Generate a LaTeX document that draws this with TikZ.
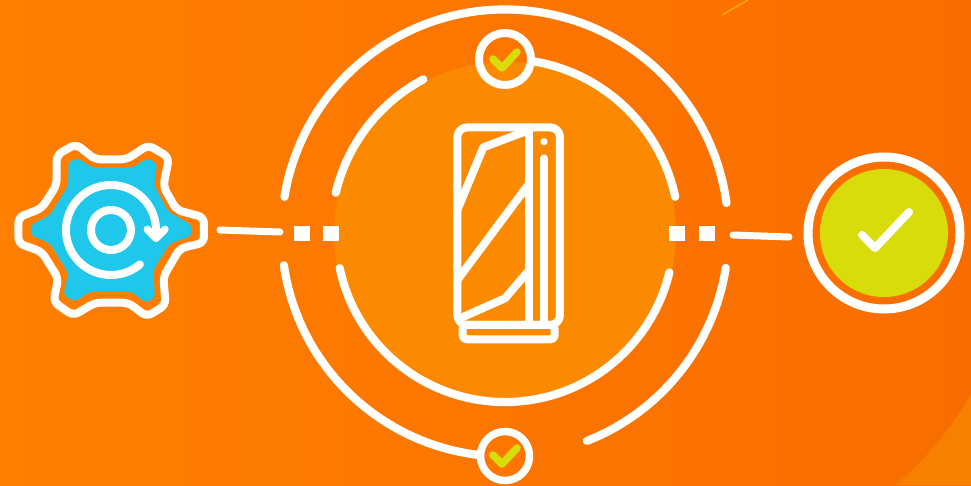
\documentclass[tikz,border=0pt]{standalone}
\definecolor{bgL}{HTML}{FF7F00}
\definecolor{bgM}{HTML}{FC7400}
\definecolor{bgR}{HTML}{F96D00}
\definecolor{disc}{HTML}{FB8A00}
\definecolor{corner}{HTML}{F88000}
\definecolor{lime}{HTML}{D7DC0A}
\definecolor{sky}{HTML}{1FC8EA}
\definecolor{spark}{HTML}{FFA800}
\tikzset{
  wl/.style={draw=white,line width=#1,line cap=round,line join=round},
  wl/.default=8.2pt,
  tick/.style={draw=lime,line width=7.5pt,line cap=round,line join=round},
  sq/.style={fill=white,draw=none}
}
\newcommand{\ringarc}[3]{\draw[wl] ({505+#1*cos(#2)},{233+#1*sin(#2)}) arc[start angle=#2,end angle=#3,radius=#1];}
\begin{document}
\begin{tikzpicture}[x=1pt,y=-1pt]
\useasboundingbox (0,0) rectangle (971,485);
\shade[left color=bgL,middle color=bgM,right color=bgR] (0,0) rectangle (971,485);
\fill[corner] (895,485) .. controls (925,460) and (950,430) .. (971,395) -- (971,485) -- cycle;
\draw[spark,line width=1.5pt] (722,15) -- (748,0);
% disc
\fill[disc] (505,233) circle[radius=171];
% rings
\ringarc{223.5}{189.3}{352.3}
\ringarc{223.5}{171.7}{96.4}
\ringarc{223.5}{68.5}{9}
\ringarc{174}{193.4}{242}
\ringarc{174}{279.2}{348}
\ringarc{169}{168}{13.5}
% top/bottom badges
\draw[wl=8pt] (505,59) circle[radius=26];
\draw[tick] (493,59) -- (502,68) -- (517,52);
\draw[wl=7.5pt] (505,456) circle[radius=24.5];
\draw[tick] (493,455) -- (502,464) -- (517,448);
% connectors
\draw[wl=7pt] (220,230) -- (280,232);
\fill[sq] (294,226) rectangle (310,241);
\fill[sq] (323,226) rectangle (339,241);
\fill[sq] (669,226) rectangle (685,241);
\fill[sq] (699,226) rectangle (715,241);
\draw[wl=7pt] (733,235) -- (789,237);
% right badge
\draw[wl=9pt] (884,233) circle[radius=76];
\fill[lime] (884,233) circle[radius=64];
\draw[wl=8pt] (862,235) -- (875,248) -- (909,212);
% gear
\begin{scope}[x=0.3333pt,y=-0.3333pt,shift={(0pt,-130pt)}]
\fill[sky,rounded corners=4pt] (205,95) -- (235,85) -- (275,112) -- (400,112) -- (440,85) -- (472,100) -- (462,165) -- (505,245) -- (575,285) -- (575,318) -- (510,340) -- (460,420) -- (465,505) -- (435,518) -- (395,485) -- (270,485) -- (225,515) -- (190,495) -- (205,430) -- (150,340) -- (92,315) -- (92,285) -- (150,255) -- (205,165) -- cycle;
\draw[wl=8pt,rounded corners=6pt] (228,42) -- (285,88) -- (380,88) -- (445,45) -- (507,82) -- (490,170) -- (530,240) -- (612,262) -- (612,338) -- (540,355) -- (490,440) -- (497,525) -- (440,560) -- (385,518) -- (285,518) -- (220,557) -- (160,515) -- (175,445) -- (125,365) -- (55,340) -- (55,262) -- (125,235) -- (170,165) -- (170,75) -- cycle;
\draw[wl=8pt] (333,300) circle[radius=60];
\draw[wl=8pt] ({333+135*cos(50)},{300+135*sin(50)}) arc[start angle=50,end angle=360,radius=135];
\draw[wl=7.5pt] (442,298) -- (468,325) -- (495,298);
\end{scope}
% device
\begin{scope}[x=0.3333pt,y=-0.3333pt,shift={(440pt,-110pt)}]
\draw[wl=8pt,rounded corners=10pt] (52,645) -- (52,52) -- (360,52) -- (360,645) -- cycle;
\draw[wl=8pt,rounded corners=4pt] (68,645) rectangle (344,688);
\draw[wl=8pt] (268,52) -- (268,640);
\draw[wl=8pt] (312,145) -- (312,640);
\fill[white] (312,95) circle[radius=11];
\draw[wl=8pt] (52,300) -- (130,112) -- (268,60);
\draw[wl=8pt] (52,510) -- (268,220);
\draw[wl=8pt] (60,625) -- (195,565) -- (268,480);
\end{scope}
\end{tikzpicture}
\end{document}
